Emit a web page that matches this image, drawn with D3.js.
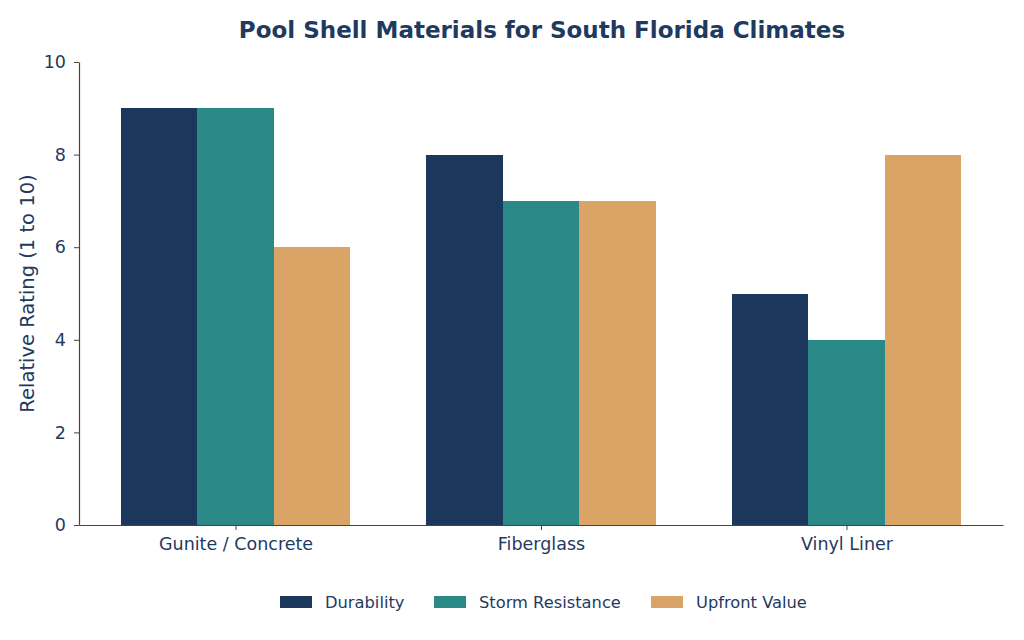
<!DOCTYPE html>
<html>
<head>
<meta charset="utf-8">
<script src="https://cdn.jsdelivr.net/npm/d3@7"></script>
<style>
  body { margin: 0; background: #fff; }
  text { font-family: "DejaVu Sans", sans-serif; fill: #1f3a5f; }
</style>
</head>
<body>
<div id="chart"></div>
<script>
// Data
const materials = ["Gunite / Concrete", "Fiberglass", "Vinyl Liner"];
const seriesNames = ["Durability", "Storm Resistance", "Upfront Value"];
const durability = [9, 8, 5];
const stormResistance = [9, 7, 4];
const upfrontValue = [6, 7, 8];
const yTicks = [0, 2, 4, 6, 8, 10];
const colors = ["#1b375c", "#2b8a87", "#d9a465"];

const seriesValues = [durability, stormResistance, upfrontValue];

const width = 1024, height = 640;
const margin = {top: 62, right: 21, bottom: 115, left: 79};

const svg = d3.select("#chart")
  .append("svg")
  .attr("width", width)
  .attr("height", height);

// Scales: group index on a linear scale, like matplotlib bar offsets
const barW = 0.25;
const x = d3.scaleLinear()
  .domain([-0.5125, 2.5125])
  .range([margin.left, width - margin.right]);

const y = d3.scaleLinear()
  .domain([0, 10])
  .range([height - margin.bottom, margin.top]);

// Bars
seriesValues.forEach((vals, s) => {
  svg.append("g")
    .attr("fill", colors[s])
    .attr("shape-rendering", "crispEdges")
    .selectAll("rect")
    .data(vals)
    .join("rect")
    .attr("x", (d, i) => x(i + (s - 1) * barW - barW / 2))
    .attr("width", x(barW) - x(0))
    .attr("y", d => y(d))
    .attr("height", d => y(0) - y(d));
});

// Axes
const xAxis = svg.append("g")
  .attr("transform", `translate(0,${y(0)})`)
  .call(d3.axisBottom(x).tickValues([0, 1, 2]).tickFormat(i => materials[i])
    .tickSize(5).tickSizeOuter(0).tickPadding(8));

const yAxis = svg.append("g")
  .attr("transform", `translate(${margin.left},0)`)
  .call(d3.axisLeft(y).tickValues(yTicks).tickSize(5).tickSizeOuter(0).tickPadding(8));

[xAxis, yAxis].forEach(g => {
  g.select(".domain").attr("stroke", "#444").attr("stroke-width", 1.2);
  g.selectAll(".tick line").attr("stroke", "#444").attr("stroke-width", 1);
  g.selectAll(".tick text").style("font-size", "17.5px").style("font-family", "DejaVu Sans, sans-serif").attr("fill", "#1f3a5f");
});

// Title
svg.append("text")
  .attr("x", (margin.left + width - margin.right) / 2 + 1)
  .attr("y", 38)
  .attr("text-anchor", "middle")
  .style("font-size", "23px")
  .style("font-weight", "bold")
  .text("Pool Shell Materials for South Florida Climates");

// Y label
svg.append("text")
  .attr("transform", `translate(34,${(margin.top + height - margin.bottom) / 2}) rotate(-90)`)
  .attr("text-anchor", "middle")
  .style("font-size", "19.5px")
  .text("Relative Rating (1 to 10)");

// Legend
const legendX = [280, 434, 651];
const legend = svg.append("g").attr("transform", "translate(0,596)");
const item = legend.selectAll("g")
  .data(seriesNames)
  .join("g")
  .attr("transform", (d, i) => `translate(${legendX[i]},0)`);

item.append("rect")
  .attr("width", 32)
  .attr("height", 12)
  .attr("fill", (d, i) => colors[i]);

item.append("text")
  .attr("x", 45)
  .attr("y", 12)
  .style("font-size", "16.3px")
  .text(d => d);
</script>
</body>
</html>
